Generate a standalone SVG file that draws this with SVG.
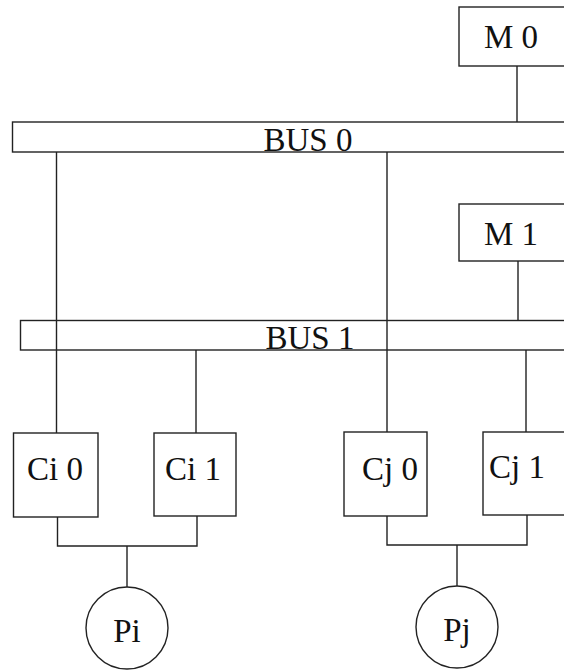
<svg xmlns="http://www.w3.org/2000/svg" width="564" height="670" viewBox="0 0 564 670">
<style>
.b{fill:#fff;stroke:#222;stroke-width:1.4}
.bus{fill:none;stroke:#222;stroke-width:1.4}
.l{fill:none;stroke:#222;stroke-width:1.4}
text{font-family:"Liberation Serif","Times New Roman",serif;font-size:33px;fill:#111;text-anchor:middle}
</style>
<rect width="564" height="670" fill="#fff"/>
<g id="connectors">
<path class="l" d="M517 66V122M518 261V320M56.5 152V433M387 152V432M196 350V433M526 350V432M57.5 517V546H197V516M127 546V587M387 516V545H527V515M457 545V586"/>
</g>
<g id="M0"><rect class="b" x="459" y="7" width="110" height="59"/><text x="511" y="48">M 0</text></g>
<g id="BUS0"><rect class="bus" x="12.5" y="122" width="560" height="30"/><text x="308" y="151">BUS 0</text></g>
<g id="M1"><rect class="b" x="459" y="204" width="110" height="57"/><text x="511" y="245">M 1</text></g>
<g id="BUS1"><rect class="bus" x="20.5" y="320.5" width="560" height="29.5"/><text x="310" y="349">BUS 1</text></g>
<g id="Ci0"><rect class="b" x="13.5" y="433" width="84.5" height="84"/><text x="55" y="480">Ci 0</text></g>
<g id="Ci1"><rect class="b" x="154" y="433" width="82" height="83"/><text x="193" y="480">Ci 1</text></g>
<g id="Cj0"><rect class="b" x="344" y="432" width="83" height="84"/><text x="390" y="480">Cj 0</text></g>
<g id="Cj1"><rect class="b" x="483" y="432" width="90" height="83"/><text x="517" y="478">Cj 1</text></g>
<g id="Pi"><circle class="b" cx="127" cy="628" r="41"/><text x="127" y="642">Pi</text></g>
<g id="Pj"><circle class="b" cx="457" cy="627" r="41"/><text x="457" y="641">Pj</text></g>
</svg>
